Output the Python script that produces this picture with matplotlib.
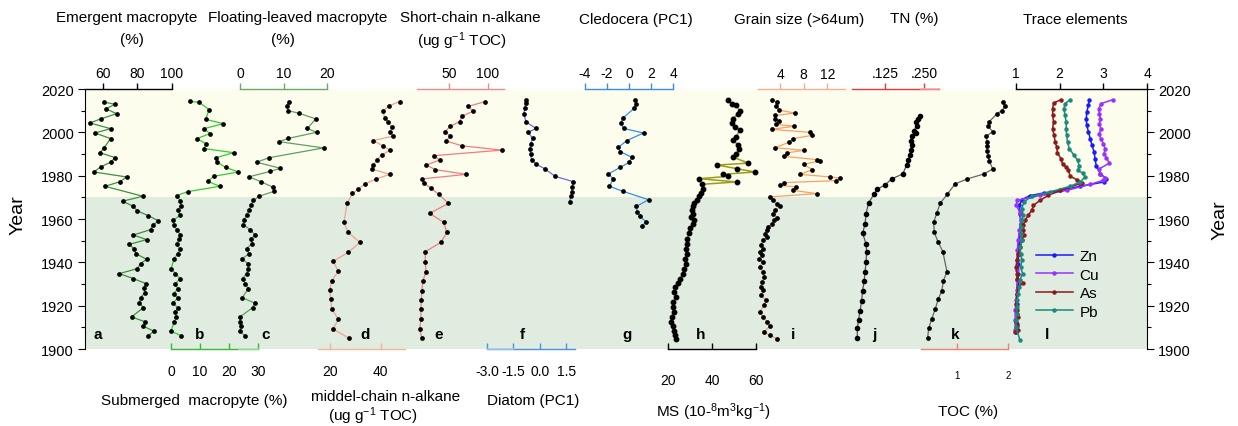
import matplotlib
matplotlib.use('Agg')
import matplotlib.pyplot as plt
from matplotlib.ticker import MultipleLocator
from matplotlib.lines import Line2D

plt.rcParams['font.family'] = ['Liberation Sans', 'DejaVu Sans']
plt.rcParams['mathtext.fontset'] = 'custom'
plt.rcParams['mathtext.rm'] = 'Liberation Sans'
plt.rcParams['mathtext.it'] = 'Liberation Sans:italic'
plt.rcParams['mathtext.bf'] = 'Liberation Sans:bold'
plt.rcParams['axes.unicode_minus'] = False

# ---------------- data ----------------
# a  emergent macrophyte (%)
yr_a = [2014.0, 2012.9, 2010.9, 2008.6, 2006.2, 2004.3, 2001.7, 1999.7, 1997.1, 1992.8, 1990.6, 1988.3,
        1986.2, 1984.0, 1981.7, 1979.4, 1977.2, 1975.1, 1970.5, 1968.2, 1966.0, 1963.8, 1961.5, 1959.2,
        1957.1, 1955.1, 1952.6, 1950.5, 1948.3, 1946.2, 1944.0, 1941.4, 1939.4, 1937.1, 1934.8, 1932.5,
        1930.2, 1928.0, 1926.0, 1923.7, 1921.2, 1919.1, 1914.8, 1912.6, 1910.5, 1908.2, 1906.2]
emergent = [60.6, 67.0, 61.7, 67.9, 58.6, 52.5, 64.4, 55.4, 64.4, 60.6, 58.3, 67.1,
            64.4, 58.6, 54.8, 73.7, 69.9, 61.2, 83.0, 71.4, 77.2, 79.9, 86.3, 92.1,
            88.8, 87.6, 77.6, 85.3, 75.3, 78.0, 79.1, 85.3, 81.8, 79.9, 69.5, 77.6,
            84.9, 83.8, 84.3, 81.8, 81.1, 83.4, 76.6, 84.3, 83.4, 89.6, 86.3]

# b  submerged macrophyte (%)
yr_b = [2014.3, 2013.8, 2010.5, 2006.0, 2004.0, 2001.7, 1999.4, 1997.1, 1994.8, 1992.5, 1990.6, 1988.3,
        1986.2, 1983.8, 1981.7, 1979.7, 1977.4, 1975.1, 1972.6, 1970.8, 1968.3, 1966.2, 1964.0, 1961.7,
        1959.4, 1957.1, 1955.1, 1952.8, 1950.6, 1948.3, 1946.2, 1944.0, 1941.7, 1937.1, 1934.8, 1932.5,
        1930.2, 1927.8, 1925.5, 1923.5, 1921.2, 1919.1, 1916.9, 1914.8, 1912.5, 1908.2, 1906.2]
submerged = [6.6, 9.8, 13.1, 12.0, 18.0, 11.4, 13.4, 8.9, 12.0, 11.4, 21.6, 15.5,
             15.9, 18.9, 23.2, 14.8, 12.6, 16.8, 5.7, 2.0, 3.2, 3.4, 2.3, 3.2,
             0.7, 0.9, 2.0, 3.2, 2.6, 2.0, 3.2, 2.3, 1.1, 0.0, 1.5, 3.2,
             1.5, 2.3, 0.9, 2.3, 0.7, 2.3, 1.5, 1.8, 1.1, 0.0, 3.4]

# c  floating-leaved macrophyte (%)
yr_c = [2014.2, 2012.3, 2010.0, 2008.8, 2006.2, 2001.8, 2000.0, 1997.2, 1995.7, 1992.8, 1988.3, 1986.2,
        1983.4, 1982.0, 1979.5, 1977.2, 1974.6, 1972.8, 1970.5, 1968.6, 1966.3, 1964.0, 1962.0, 1959.4,
        1957.4, 1955.1, 1952.8, 1950.6, 1948.6, 1946.3, 1944.0, 1941.7, 1939.4, 1937.1, 1934.8, 1932.5,
        1930.2, 1927.8, 1923.7, 1921.2, 1919.1, 1914.8, 1912.5, 1910.5, 1908.2, 1906.2]
floating = [11.3, 10.7, 11.1, 13.6, 17.4, 15.5, 17.6, 11.1, 9.0, 19.2, 6.7, 3.8,
            9.3, 7.0, 2.1, 4.8, 7.7, 7.9, 4.4, 3.1, 2.5, 2.1, 1.5, 0.9,
            0.8, 2.3, 3.4, 2.6, 2.7, 1.5, 2.1, 0.5, 1.8, 1.9, 1.5, 0.6,
            1.2, 1.9, 0.5, 3.4, 2.9, 0.0, 0.0, 0.2, 0.0, 1.1]

# d  middle-chain n-alkane
yr_d = [2014.2, 2012.3, 2009.7, 2006.5, 2004.6, 2002.6, 2000.3, 1998.2, 1996.2, 1993.8, 1991.8, 1989.5,
        1987.2, 1984.9, 1983.1, 1980.6, 1978.5, 1976.2, 1973.8, 1971.8, 1967.2, 1958.5, 1953.8, 1949.2,
        1944.6, 1940.5, 1935.8, 1931.5, 1927.4, 1923.1, 1918.5, 1913.8, 1909.2, 1904.9]
mid_alk = [47.6, 43.4, 40.8, 41.7, 43.0, 44.3, 43.7, 44.7, 37.1, 40.8, 43.7, 40.4,
           38.4, 37.1, 36.4, 43.7, 38.2, 33.8, 31.2, 28.9, 26.8, 25.5, 27.2, 31.8,
           27.2, 21.3, 23.3, 20.7, 20.0, 20.3, 20.7, 23.3, 21.3, 27.6]

# e  short-chain n-alkane
yr_e = [2014.2, 2012.0, 2009.7, 2007.4, 2004.9, 2002.8, 2000.3, 1998.2, 1996.0, 1993.8, 1991.8, 1989.2,
        1987.2, 1984.9, 1982.8, 1980.6, 1978.5, 1976.5, 1974.2, 1971.5, 1967.2, 1962.6, 1958.5, 1953.8,
        1949.2, 1944.9, 1940.3, 1935.7, 1931.5, 1926.9, 1922.8, 1918.5, 1913.8, 1909.2, 1904.9]
short_alk = [96.5, 75.0, 80.6, 66.4, 63.4, 51.3, 44.8, 51.3, 46.1, 66.4, 118.0, 29.8,
             37.5, 20.3, 31.9, 72.0, 14.7, 17.7, 26.3, 36.2, 49.1, 24.6, 42.7, 47.0,
             39.2, 19.0, 19.0, 19.9, 16.0, 14.7, 13.8, 13.4, 13.4, 11.7, 14.7]

# f  diatom PC1
yr_f = [2015.1, 2013.5, 2011.1, 2008.5, 2004.9, 2001.8, 2000.0, 1997.2, 1994.6, 1992.3, 1990.0, 1987.4,
        1985.4, 1983.1, 1979.7, 1977.2, 1974.6, 1972.3, 1970.5, 1968.0]
diatom = [-0.79, -0.81, -0.85, -0.90, -0.79, -0.22, -0.66, -0.41, -0.52, -0.56, -0.52, -0.47,
          -0.22, 0.30, 0.87, 1.91, 1.82, 1.82, 1.76, 1.69]

# g  cladocera PC1
yr_g = [2015.1, 2013.1, 2011.1, 2006.5, 2004.2, 2001.8, 1999.7, 1996.2, 1993.1, 1991.1, 1988.5, 1986.2,
        1983.8, 1980.8, 1978.5, 1975.1, 1972.8, 1968.9, 1965.8, 1963.1, 1961.2, 1958.5, 1956.9]
cladocera = [0.56, 0.65, 0.47, -0.57, -0.75, -0.50, 1.32, -0.20, -0.96, -0.81, 0.26, 0.04,
             -0.81, -1.87, -1.42, -1.78, -0.57, 1.78, 0.65, 0.77, 1.02, 1.56, 1.17]

# h  magnetic susceptibility
yr_h = [2015.1, 2012.9, 2012.5, 2009.8, 2008.6, 2006.3, 2004.3, 2002.5, 2001.2, 1997.8, 1996.6, 1994.0,
        1992.5, 1989.8, 1988.6, 1985.8, 1984.9, 1983.2, 1981.7, 1980.6, 1979.7, 1978.6, 1977.1, 1976.0,
        1974.0, 1972.0, 1970.5, 1968.9, 1967.4, 1965.8, 1964.0, 1962.5, 1960.9, 1959.4, 1957.8, 1956.0,
        1953.5, 1950.9, 1948.6, 1946.3, 1944.0, 1941.7, 1939.4, 1937.1, 1934.8, 1932.5, 1930.5, 1928.6,
        1926.3, 1924.0, 1921.7, 1919.4, 1917.1, 1914.8, 1912.5, 1910.5, 1908.3, 1906.3, 1904.8]
ms_val = [47.4, 48.9, 50.9, 52.7, 52.0, 49.4, 48.9, 50.5, 52.7, 50.9, 49.4, 52.0,
          52.4, 50.9, 49.4, 56.5, 42.4, 51.5, 59.5, 44.8, 47.4, 34.2, 51.2, 35.3,
          35.8, 34.8, 34.2, 33.0, 31.8, 31.2, 30.8, 31.2, 30.3, 31.8, 31.5, 30.0,
          29.4, 28.8, 28.5, 28.2, 28.5, 27.7, 28.2, 27.3, 26.7, 25.5, 24.7, 23.2,
          22.7, 23.6, 22.4, 22.1, 22.7, 21.7, 21.2, 22.1, 22.7, 23.2, 23.6]

# i  grain size >64um
yr_i = [2015.1, 2014.0, 2012.0, 2010.2, 2008.9, 2007.8, 2006.3, 2005.2, 2003.7, 2002.8, 2001.4, 2000.0,
        1998.6, 1997.1, 1995.5, 1992.9, 1991.7, 1990.5, 1988.9, 1987.4, 1986.8, 1985.2, 1982.8, 1980.6,
        1979.4, 1978.8, 1977.7, 1976.8, 1975.5, 1974.8, 1973.2, 1971.7, 1970.2, 1968.9, 1966.8, 1965.8,
        1964.0, 1962.5, 1960.6, 1959.4, 1957.8, 1956.3, 1954.8, 1953.2, 1951.7, 1950.2, 1947.8, 1946.3,
        1944.8, 1943.2, 1941.7, 1940.2, 1937.8, 1935.5, 1933.2, 1930.9, 1928.6, 1927.1, 1924.8, 1922.5,
        1920.2, 1917.1, 1914.8, 1912.5, 1910.5, 1907.8, 1906.3, 1904.8]
grain = [2.58, 3.43, 3.32, 3.89, 6.56, 3.15, 3.15, 3.89, 3.32, 6.39, 2.58, 9.0,
         9.4, 6.27, 5.59, 3.15, 7.98, 5.14, 4.68, 10.25, 10.7, 7.98, 9.45, 7.41,
         12.5, 14.2, 13.4, 4.68, 4.0, 6.73, 6.27, 10.25, 2.3, 2.86, 3.55, 4.0,
         3.15, 2.75, 3.43, 2.98, 2.58, 2.01, 1.73, 1.44, 1.73, 1.16, 0.70, 1.16,
         0.59, 0.88, 0.48, 1.05, 0.59, 1.16, 1.27, 0.88, 0.70, 1.16, 0.70, 1.61,
         1.27, 0.59, 1.16, 1.84, 2.30, 1.27, 2.30, 3.43]

# j  TN (%)
yr_j = [2007.4, 2006.2, 2004.9, 2003.1, 2000.8, 1999.7, 1998.2, 1996.2, 1994.2, 1992.0, 1989.5, 1987.4,
        1984.9, 1980.8, 1978.5, 1975.7, 1973.8, 1971.5, 1967.4, 1962.3, 1957.7, 1953.5, 1948.5, 1944.6,
        1940.3, 1935.7, 1931.5, 1926.9, 1922.3, 1917.7, 1913.5, 1909.5, 1904.9]
tn = [0.237, 0.232, 0.224, 0.226, 0.218, 0.224, 0.210, 0.207, 0.210, 0.207, 0.205, 0.200,
      0.194, 0.182, 0.146, 0.125, 0.100, 0.090, 0.072, 0.064, 0.061, 0.053, 0.064, 0.066,
      0.064, 0.061, 0.058, 0.053, 0.050, 0.045, 0.040, 0.036, 0.036]

# k  TOC (%)
yr_k = [2014.2, 2012.0, 2010.0, 2008.5, 2004.9, 2002.8, 2000.3, 1998.2, 1995.7, 1993.5, 1991.5, 1988.9,
        1986.9, 1983.1, 1980.8, 1978.5, 1976.2, 1971.5, 1967.4, 1962.8, 1958.5, 1953.8, 1949.2, 1944.9,
        1935.7, 1931.5, 1926.9, 1923.1, 1918.5, 1913.8, 1909.5, 1904.9]
toc = [1.91, 1.94, 1.88, 1.78, 1.63, 1.61, 1.70, 1.57, 1.59, 1.58, 1.59, 1.61,
       1.63, 1.70, 1.53, 1.20, 0.96, 0.81, 0.67, 0.60, 0.54, 0.55, 0.63, 0.72,
       0.80, 0.73, 0.70, 0.63, 0.57, 0.50, 0.44, 0.42]

# l  trace elements (enrichment)
yr_zn = [2015.1, 2012.5, 2009.4, 2006.3, 2003.2, 2000.2, 1997.1, 1994.0, 1990.9, 1987.8, 1984.3, 1980.9,
         1978.6, 1977.1, 1975.1, 1973.2, 1972.0, 1970.8, 1968.9, 1966.3, 1962.5, 1957.8, 1953.2, 1948.6,
         1944.0, 1939.4, 1934.8, 1930.2, 1925.5, 1920.9, 1916.3, 1911.7, 1907.8]
zn = [2.68, 2.66, 2.62, 2.61, 2.62, 2.66, 2.70, 2.74, 2.79, 2.81, 2.84, 2.93,
      3.07, 3.02, 2.47, 2.01, 1.63, 1.32, 1.13, 1.08, 1.09, 1.11, 1.09, 1.08,
      1.06, 1.05, 1.05, 1.05, 1.03, 1.03, 1.02, 1.02, 1.00]
yr_cu = [2015.1, 2013.2, 2010.9, 2008.6, 2006.3, 2004.0, 2001.7, 1999.4, 1997.1, 1994.8, 1992.5, 1990.2,
         1988.3, 1985.8, 1983.2, 1980.6, 1979.1, 1977.8, 1976.0, 1973.2, 1970.9, 1968.6, 1966.3, 1963.2,
         1959.4, 1954.8, 1950.2, 1945.5, 1940.9, 1936.3, 1931.7, 1927.1, 1922.5, 1917.8, 1913.2, 1908.6]
cu = [3.22, 2.94, 2.90, 2.91, 2.93, 2.91, 2.94, 2.91, 2.94, 3.00, 3.04, 3.02,
      3.07, 3.14, 2.91, 2.93, 3.04, 2.99, 2.70, 2.16, 1.55, 1.03, 1.00, 1.09,
      1.11, 1.08, 1.05, 1.03, 1.02, 1.02, 1.03, 1.02, 1.00, 0.98, 0.98, 0.98]
yr_as = [2015.1, 2013.5, 2010.9, 2007.8, 2004.8, 2001.7, 1998.6, 1995.5, 1993.2, 1990.5, 1987.8, 1985.2,
         1984.0, 1982.5, 1979.7, 1978.2, 1976.6, 1973.2, 1970.9, 1968.6, 1966.3, 1964.0, 1961.7, 1959.4,
         1957.1, 1954.8, 1952.5, 1950.2, 1947.1, 1944.0, 1940.9, 1937.8, 1934.8, 1932.5, 1930.5, 1928.6,
         1925.5, 1920.9, 1917.8, 1914.8, 1912.5, 1910.5, 1908.9, 1907.8]
as_ = [2.03, 1.86, 1.84, 1.84, 1.86, 1.84, 1.87, 1.90, 1.93, 1.95, 2.03, 2.07,
       2.15, 2.20, 2.24, 2.39, 2.51, 2.01, 1.74, 1.55, 1.40, 1.36, 1.28, 1.21,
       1.17, 1.17, 1.18, 1.13, 1.09, 1.05, 1.02, 1.00, 1.02, 1.03, 1.17, 1.05,
       1.02, 1.00, 1.03, 1.05, 1.00, 1.03, 1.05, 0.98]
yr_pb = [2015.1, 2013.2, 2010.9, 2007.8, 2004.8, 2001.7, 1998.6, 1995.5, 1992.5, 1989.4, 1987.1, 1984.3,
         1982.5, 1981.2, 1979.4, 1977.1, 1975.1, 1972.5, 1970.5, 1967.8, 1964.8, 1961.7, 1959.4, 1956.3,
         1953.2, 1950.2, 1947.1, 1944.0, 1940.9, 1937.8, 1934.8, 1931.7, 1928.6, 1925.5, 1922.5, 1919.4,
         1916.3, 1913.2, 1910.2, 1904.0]
pb = [2.24, 2.12, 2.10, 2.12, 2.15, 2.15, 2.16, 2.18, 2.22, 2.33, 2.41, 2.45,
      2.41, 2.53, 2.58, 2.47, 2.24, 1.78, 1.36, 1.18, 1.13, 1.17, 1.13, 1.11,
      1.11, 1.13, 1.09, 1.11, 1.13, 1.11, 1.15, 1.09, 1.08, 1.05, 1.03, 1.02,
      1.02, 1.00, 1.00, 1.09]

# ---------------- layout ----------------
W, H = 1238, 427
Y_TOP, Y_BOT = 90, 350          # pixel rows of 2020 and 1900


def fx(x):
    return x / W


def fy(y):
    return 1 - y / H


fig = plt.figure(figsize=(W / 100, H / 100), dpi=100)

ax0 = fig.add_axes([fx(85), fy(Y_BOT), fx(1147) - fx(85), fy(Y_TOP) - fy(Y_BOT)])
ax0.set_xlim(0, 1)
ax0.set_ylim(1900, 2020)
ax0.axhspan(1970, 2020, color='#fdfdee', lw=0)
ax0.axhspan(1900, 1970, color='#e0ecdf', lw=0)
ax0.spines['top'].set_visible(False)
ax0.spines['bottom'].set_visible(False)
ax0.set_xticks([])
ax0.set_yticks(range(1900, 2021, 20))
ax0.yaxis.set_minor_locator(MultipleLocator(10))
ax0.tick_params(axis='y', which='both', left=True, right=True, labelleft=True, labelright=True,
                direction='out', labelsize=10.5)
ax0.tick_params(axis='y', which='major', length=5, width=0.8, pad=3)
ax0.tick_params(axis='y', which='minor', length=3, width=0.8)

fig.text(fx(18), fy(215), 'Year', rotation=90, fontsize=14, ha='center', va='center')
fig.text(fx(1220), fy(220), 'Year', rotation=90, fontsize=14, ha='center', va='center')


def panel(x0, x1, xlim, side, color, ticks, labels=None, pad=2.5, lsize=10):
    ax = fig.add_axes([fx(x0), fy(Y_BOT), fx(x1) - fx(x0), fy(Y_TOP) - fy(Y_BOT)])
    ax.patch.set_visible(False)
    ax.set_xlim(*xlim)
    ax.set_ylim(1900, 2020)
    for s in ax.spines.values():
        s.set_visible(False)
    ax.spines[side].set_visible(True)
    ax.spines[side].set_color(color)
    ax.spines[side].set_linewidth(1.0)
    ax.set_yticks([])
    ax.xaxis.set_ticks_position(side)
    ax.set_xticks(ticks)
    if labels is not None:
        ax.set_xticklabels(labels)
    ax.tick_params(axis='x', color=color, direction='out' if side == 'top' else 'in',
                   length=4, width=1.0, pad=pad, labelsize=lsize)
    return ax


def profile(ax, vals, yrs, color, lw=0.9, ms=2.4):
    ax.plot(vals, yrs, '-', color=color, lw=lw, marker='o', ms=ms,
            mfc='black', mec='black', clip_on=False)


def light(ax, v0, v1, color):
    # paler part of an axis line
    ax.plot([v0, v1], [0, 0] if ax.spines['bottom'].get_visible() else [1, 1], color=color, lw=1.1,
            transform=ax.get_xaxis_transform(), clip_on=False, zorder=3)


ax_a = panel(85, 172, (49.6, 100), 'top', 'black', [60, 80, 100])
profile(ax_a, emergent, yr_a, '#3a923a')

ax_b = panel(171, 258, (0, 30), 'bottom', '#33bb33', [0, 10, 20, 30], pad=11)
light(ax_b, 23.4, 30, '#b2e4b2')
profile(ax_b, submerged, yr_b, '#33cc33')

ax_c = panel(240, 327, (0, 20), 'top', '#66aa66', [0, 10, 20])
profile(ax_c, floating, yr_c, '#5f9f5f')

ax_d = panel(318, 405, (15.3, 49.6), 'bottom', '#f4b496', [20, 40], pad=11)
profile(ax_d, mid_alk, yr_d, '#f4a090')

ax_e = panel(417, 504, (8.3, 121), 'top', '#f08a8a', [50, 100])
profile(ax_e, short_alk, yr_e, '#f47c7c')

ax_f = panel(487, 575, (-3.0, 2.0), 'bottom', '#4a90e2', [-3.0, -1.5, 0.0, 1.5],
             ['-3.0', '-1.5', '0.0', '1.5'], pad=11)
light(ax_f, -3.0, -1.5, '#a8cdf2')
profile(ax_f, diatom, yr_f, '#6b6bdf')

ax_g = panel(585, 673, (-4, 4), 'top', '#3a8ee6', [-4, -2, 0, 2, 4])
profile(ax_g, cladocera, yr_g, '#2f8fe8')

ax_h = panel(668, 756, (20, 60), 'bottom', 'black', [20, 40, 60], pad=17)
profile(ax_h, ms_val, yr_h, '#9c9c1c', lw=1.1, ms=3.2)

ax_i = panel(758, 845, (0.27, 15), 'top', '#f6b08e', [4, 8, 12], pad=1.5)
profile(ax_i, grain, yr_i, '#f9a066')

ax_j = panel(852, 939, (0.019, 0.298), 'top', '#e8383d', [0.125, 0.25], ['.125', '.250'])
light(ax_j, 0.24, 0.298, '#f6a8a8')
profile(ax_j, tn, yr_j, '#555555', ms=3.0)

ax_k = panel(921, 1008, (0.29, 2.0), 'bottom', '#f08070', [1, 2], pad=15, lsize=7)
profile(ax_k, toc, yr_k, '#666666')

ax_l = panel(1016, 1147, (1, 4), 'top', 'black', [1, 2, 3, 4])
series_l = [('Zn', zn, yr_zn, '#1a1aff'), ('Cu', cu, yr_cu, '#9b30ff'),
            ('As', as_, yr_as, '#8b1a1a'), ('Pb', pb, yr_pb, '#1b8a7a')]
handles = []
for name, vals, yrs, col in series_l:
    ax_l.plot(vals, yrs, '-', color=col, lw=1.1, marker='o', ms=2.2, clip_on=False)
    handles.append(Line2D([], [], color=col, lw=1.1, marker='o', ms=2.2))
ax_l.legend(handles, [s[0] for s in series_l], loc='upper left',
            bbox_to_anchor=(fx(1036), fy(250)), bbox_transform=fig.transFigure,
            frameon=False, borderpad=0, borderaxespad=0, handlelength=2.4,
            handletextpad=0.45, labelspacing=0.3, fontsize=11, numpoints=1)

# panel letters
for letter, x in zip('abcdefghijkl', [98, 200, 266, 365, 439, 522, 627, 701, 793, 874, 955, 1047]):
    fig.text(fx(x), fy(335), letter, fontsize=11, fontweight='bold', ha='center', va='center')

# axis titles
top_titles = [('Emergent macropyte', 127, 18), ('(%)', 132, 40),
              ('Floating-leaved macropyte', 298, 18), ('(%)', 283, 40),
              ('Short-chain n-alkane', 470, 18), ('(ug g$^{-1}$ TOC)', 462, 41),
              ('Cledocera (PC1)', 636, 20), ('Grain size (>64um)', 799, 20),
              ('TN (%)', 914, 19), ('Trace elements', 1075, 20)]
bottom_titles = [('Submerged  macropyte (%)', 194, 401),
                 ('middel-chain n-alkane', 386, 397), ('(ug g$^{-1}$ TOC)', 373, 416),
                 ('Diatom (PC1)', 533, 401),
                 ('MS (10-$^{8}$m$^{3}$kg$^{-1}$)', 713, 412), ('TOC (%)', 968, 412)]
for txt, x, y in top_titles + bottom_titles:
    fig.text(fx(x), fy(y), txt, fontsize=11, ha='center', va='center')

fig.savefig('out.png', dpi=100)
